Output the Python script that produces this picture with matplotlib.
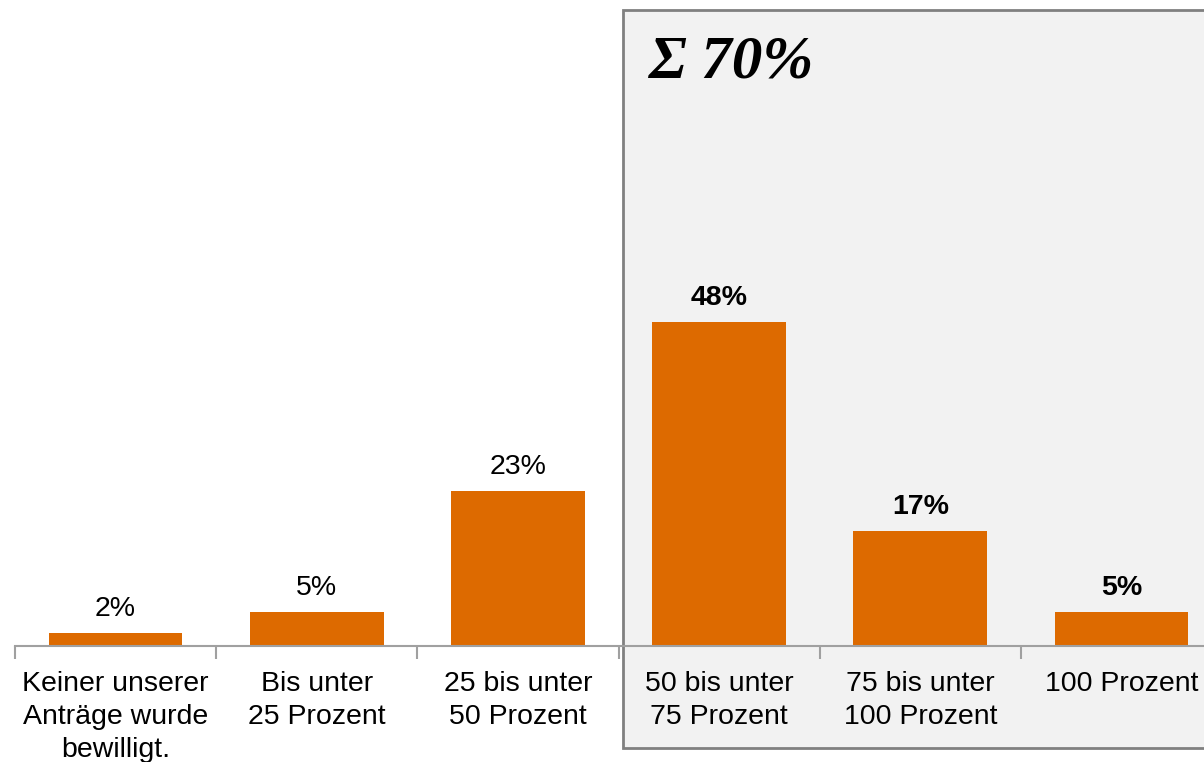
import matplotlib
matplotlib.use("Agg")
import matplotlib.pyplot as plt
from matplotlib.patches import Rectangle

categories = ["Keiner unserer\nAnträge wurde\nbewilligt.", "Bis unter\n25 Prozent",
              "25 bis unter\n50 Prozent", "50 bis unter\n75 Prozent",
              "75 bis unter\n100 Prozent", "100 Prozent"]
values = [2, 5, 23, 48, 17, 5]
bold_flags = [False, False, False, True, True, True]
sum_label = "Σ 70%"

plt.rcParams['font.family'] = ['Liberation Sans', 'DejaVu Sans']

W, H = 1204, 762
fig = plt.figure(figsize=(W / 100, H / 100), dpi=100)

# gray highlight box (figure pixel coords)
box = Rectangle((623 / W, 1 - 748 / H), (W + 10 - 623) / W, (748 - 10) / H,
                transform=fig.transFigure, facecolor="#F2F2F2", edgecolor="#808080",
                linewidth=2, zorder=-5)
fig.patches.append(box)

left, right = 15 / W, 1222 / W
bottom, top = 1 - 646 / H, 1 - 10 / H
ax = fig.add_axes([left, bottom, right - left, top - bottom])
ax.patch.set_alpha(0)
ax.set_zorder(1)

x = list(range(len(categories)))
ax.bar(x, values, width=0.665, color="#DD6A00", zorder=2)
ax.set_xlim(-0.5, len(categories) - 0.5)
ax.set_ylim(0, 636 / 6.75)

for xi, v, b in zip(x, values, bold_flags):
    ax.text(xi, v + 24 / 6.75, f"{v}%", ha="center", va="center", fontsize=20.5,
            fontweight="bold" if b else "normal", color="black")

for s in ["top", "right", "left"]:
    ax.spines[s].set_visible(False)
ax.spines["bottom"].set_color("#A0A0A0")
ax.spines["bottom"].set_linewidth(1.5)
ax.set_yticks([])
ax.set_xticks([i - 0.5 for i in range(len(categories) + 1)], minor=False)
ax.set_xticklabels([])
ax.tick_params(axis="x", which="major", length=9, width=1.5, color="#A0A0A0")
ax.set_xticks(x, minor=True)
ax.set_xticklabels(categories, minor=True, fontsize=20.5, linespacing=1.34)
ax.tick_params(axis="x", which="minor", length=0, pad=18)
for lbl in ax.get_xticklabels(minor=True):
    lbl.set_verticalalignment("top")

fig.text(648 / W, 1 - 63 / H, sum_label, family=["Liberation Serif", "DejaVu Serif"],
         fontsize=44, fontweight="bold", fontstyle="italic", ha="left", va="center")

fig.savefig("out.png", dpi=100)
